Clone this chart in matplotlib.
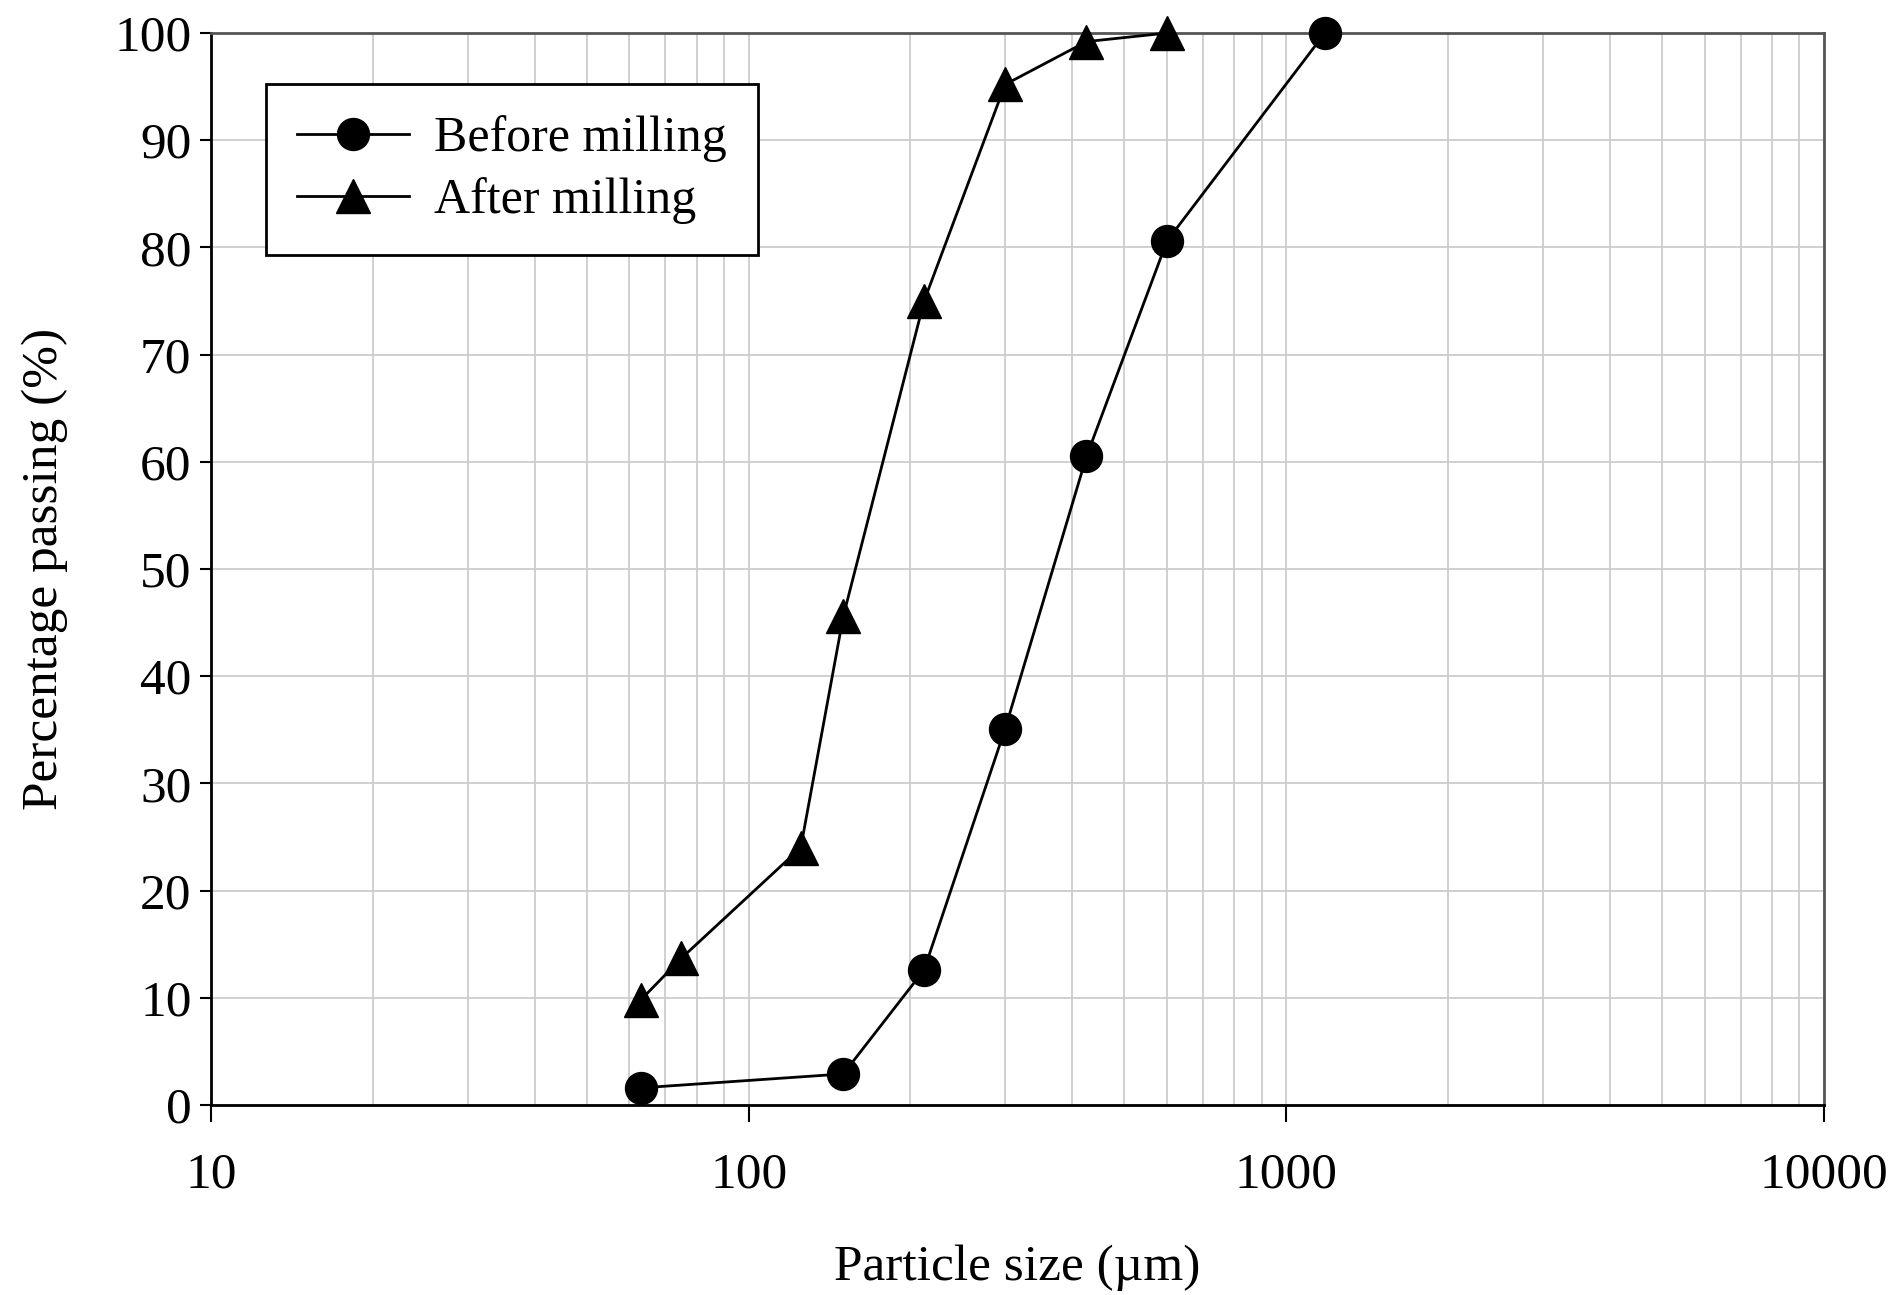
import matplotlib
matplotlib.use("Agg")
import matplotlib.pyplot as plt
from matplotlib.ticker import FixedLocator, LogLocator, NullFormatter

plt.rcParams['font.family'] = ['Liberation Serif', 'DejaVu Serif']

# sieve sizes (um) and cumulative passing (%)
size_before = [63, 150, 212, 300, 425, 600, 1180]
passing_before = [1.6, 2.9, 12.6, 35.1, 60.5, 80.6, 100.0]

size_after = [63, 75, 125, 150, 212, 300, 425, 600]
passing_after = [9.8, 13.7, 24.0, 45.6, 75.0, 95.2, 99.2, 100.0]

x_ticks = [10, 100, 1000, 10000]
x_tick_labels = ['10', '100', '1000', '10000']
y_ticks = list(range(0, 101, 10))

fig = plt.figure(figsize=(18.94, 12.95), dpi=100)
ax = fig.add_axes([0.1114, 0.1467, 0.8516, 0.8278])

ax.plot(size_before, passing_before, color='black', linewidth=2.0,
        marker='o', markersize=23, label='Before milling', clip_on=False, zorder=3)
ax.plot(size_after, passing_after, color='black', linewidth=2.0,
        marker='^', markersize=24, label='After milling', clip_on=False, zorder=3)

ax.set_xscale('log')
ax.set_xlim(10, 10000)
ax.set_ylim(0, 100)

ax.xaxis.set_major_locator(FixedLocator(x_ticks))
ax.set_xticks(x_ticks)
ax.set_xticklabels(x_tick_labels)
ax.xaxis.set_minor_locator(LogLocator(base=10, subs=range(2, 10)))
ax.xaxis.set_minor_formatter(NullFormatter())
ax.set_yticks(y_ticks)

ax.grid(True, which='major', color='#cdcdcd', linewidth=1.3)
ax.grid(True, which='minor', axis='x', color='#cdcdcd', linewidth=1.3)
ax.set_axisbelow(True)

ax.tick_params(axis='x', which='major', direction='out', length=12, width=1.5,
               labelsize=37, pad=22)
ax.tick_params(axis='x', which='minor', length=0)
ax.tick_params(axis='y', direction='out', length=8, width=1.5, labelsize=37, pad=6)

for side in ['left', 'bottom']:
    ax.spines[side].set_linewidth(2.0)
    ax.spines[side].set_color('black')
for side in ['top', 'right']:
    ax.spines[side].set_linewidth(2.0)
    ax.spines[side].set_color('#555555')

ax.set_xlabel('Particle size (µm)', fontsize=37, labelpad=33)
ax.set_ylabel('Percentage passing (%)', fontsize=37, labelpad=33)

leg = ax.legend(loc='upper left', bbox_to_anchor=(0.034, 0.952), fontsize=36,
                frameon=True, fancybox=False, edgecolor='black', framealpha=1,
                handlelength=2.25, handletextpad=0.5, borderpad=0.62,
                labelspacing=0.3, borderaxespad=0)
leg.get_frame().set_linewidth(2.0)

fig.savefig('out.png', dpi=100)
